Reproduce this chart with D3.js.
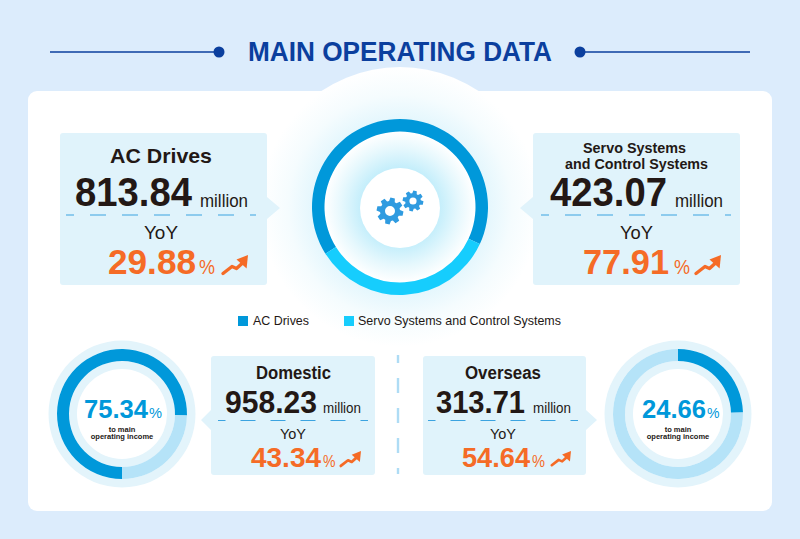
<!DOCTYPE html>
<html>
<head>
<meta charset="utf-8">
<script src="https://cdnjs.cloudflare.com/ajax/libs/d3/7.8.5/d3.min.js"></script>
<style>
  html, body { margin: 0; padding: 0; background: #dcecfc; }
  svg { display: block; font-family: "Liberation Sans", Arial, sans-serif; }
</style>
</head>
<body>
<svg id="chart" width="800" height="539"></svg>
<script>
// ---- data ----
const title = 'MAIN OPERATING DATA';
const categories = ['AC Drives', 'Servo Systems and Control Systems'];
const revenue = [813.84, 423.07];
const revenueYoy = [29.88, 77.91];
const regions = ['Domestic', 'Overseas'];
const regionRevenue = [958.23, 313.71];
const regionYoy = [43.34, 54.64];
const regionShare = [75.34, 24.66];

// ---- colours ----
const C = {
  bg: '#dcecfc', navy: '#0b3f9e', ink: '#231815', panel: '#e0f3fb', dash: '#3ba3e0',
  dark: '#0098da', cyan: '#16cdfd', pale: '#b5e3f8', halo: '#e3f4fb', orange: '#f56b26', gear: '#2f9be0'
};
const rad = deg => deg * Math.PI / 180;

const svg = d3.select('#chart');
const defs = svg.append('defs');

const glow = defs.append('radialGradient').attr('id', 'glow')
  .attr('gradientUnits', 'userSpaceOnUse')
  .attr('cx', 400).attr('cy', 207).attr('r', 140);
[[0.28, '#c4eefb'], [0.42, '#e6f8fd'], [0.54, '#ffffff'], [0.6, '#e2f6fd'], [0.8, '#f5fcfe'], [1, '#ffffff']]
  .forEach(s => glow.append('stop').attr('offset', s[0]).attr('stop-color', s[1]));

// ---- helpers ----
function label(str, x, y, size, opts = {}) {
  const t = svg.append('text')
    .attr('x', x).attr('y', y)
    .attr('font-size', size)
    .attr('font-weight', opts.weight || 'normal')
    .attr('fill', opts.fill || C.ink)
    .text(str);
  if (opts.len) t.attr('textLength', opts.len).attr('lengthAdjust', 'spacingAndGlyphs');
  if (opts.anchor) t.attr('text-anchor', opts.anchor);
  return t;
}

// speech-bubble panel, tip = pointer x, side = which side it sits on
function panel(x0, x1, y0, y1, tipX, tipY, half) {
  const r = 3;
  const p = d3.path();
  p.moveTo(x0 + r, y0);
  p.lineTo(x1 - r, y0);
  p.quadraticCurveTo(x1, y0, x1, y0 + r);
  if (tipX > x1) { p.lineTo(x1, tipY - half); p.lineTo(tipX, tipY); p.lineTo(x1, tipY + half); }
  p.lineTo(x1, y1 - r);
  p.quadraticCurveTo(x1, y1, x1 - r, y1);
  p.lineTo(x0 + r, y1);
  p.quadraticCurveTo(x0, y1, x0, y1 - r);
  if (tipX < x0) { p.lineTo(x0, tipY + half); p.lineTo(tipX, tipY); p.lineTo(x0, tipY - half); }
  p.lineTo(x0, y0 + r);
  p.quadraticCurveTo(x0, y0, x0 + r, y0);
  p.closePath();
  svg.append('path').attr('d', p.toString()).attr('fill', C.panel);
}

function dashLine(x0, x1, y, on) {
  svg.append('line').attr('x1', x0).attr('x2', x1).attr('y1', y).attr('y2', y)
    .attr('stroke', C.dash).attr('stroke-width', 1).attr('stroke-dasharray', `${on} ${on}`)
    .attr('stroke-dashoffset', on / 2);
}

// orange rising arrow, drawn in a 26x20 box
function trendArrow(x, y, w) {
  const s = w / 26;
  const g = svg.append('g').attr('transform', `translate(${x},${y}) scale(${s})`);
  g.append('path')
    .attr('d', 'M1 18.5 L10 11.5 L14.5 13.5 L20 8.5')
    .attr('fill', 'none').attr('stroke', C.orange).attr('stroke-width', 3.4)
    .attr('stroke-linecap', 'round').attr('stroke-linejoin', 'round');
  g.append('path').attr('d', 'M26 0 L24.6 13.5 L14.5 4.5 Z').attr('fill', C.orange);
}

function gear(cx, cy, rOut, rIn, rHole, teeth) {
  const pts = [];
  const step = 2 * Math.PI / teeth;
  for (let i = 0; i < teeth; i++) {
    const a = i * step + 0.2;
    [[-0.30, rIn], [-0.17, rOut], [0.17, rOut], [0.30, rIn]].forEach(d => {
      const an = a + d[0] * step * 1.25;
      pts.push([cx + d[1] * Math.cos(an), cy + d[1] * Math.sin(an)]);
    });
  }
  const p = d3.path();
  p.moveTo(pts[0][0], pts[0][1]);
  pts.slice(1).forEach(q => p.lineTo(q[0], q[1]));
  p.closePath();
  p.moveTo(cx + rHole, cy);
  p.arc(cx, cy, rHole, 0, 2 * Math.PI);
  svg.append('path').attr('d', p.toString()).attr('fill', C.gear).attr('fill-rule', 'evenodd');
}

// ---- page frame ----
svg.append('rect').attr('width', 800).attr('height', 539).attr('fill', C.bg);
svg.append('rect').attr('x', 28).attr('y', 91).attr('width', 744).attr('height', 420).attr('rx', 9).attr('fill', '#fff');

// ---- title ----
[[50, 219], [580, 750]].forEach(d => {
  svg.append('line').attr('x1', d[0]).attr('x2', d[1]).attr('y1', 52).attr('y2', 52)
    .attr('stroke', C.navy).attr('stroke-width', 1.6);
});
[219, 580].forEach(x => svg.append('circle').attr('cx', x).attr('cy', 52).attr('r', 5.5).attr('fill', C.navy));
label(title, 248, 61, 27, { weight: 'bold', fill: C.navy, len: 304 });

// ---- big donut ----
const cx0 = 400, cy0 = 207;
svg.append('circle').attr('cx', cx0).attr('cy', cy0).attr('r', 140).attr('fill', 'url(#glow)');

const bigPie = d3.pie().sort(null).startAngle(rad(-122)).endAngle(rad(238));
const bigArc = d3.arc().innerRadius(75.5).outerRadius(88);
const bigColor = d3.scaleOrdinal().domain(categories).range([C.dark, C.cyan]);
svg.append('g').attr('transform', `translate(${cx0},${cy0})`)
  .selectAll('path').data(bigPie(revenue)).join('path')
  .attr('d', bigArc)
  .attr('fill', (d, i) => bigColor(categories[i]));

svg.append('circle').attr('cx', cx0).attr('cy', cy0 + 1).attr('r', 40).attr('fill', '#fff');
gear(390, 211, 13.5, 10, 5, 8);
gear(413, 201, 10.5, 7.8, 3.6, 8);

// ---- top panels ----
panel(60, 267, 133, 285, 280, 208, 11);
panel(533, 740, 133, 285, 520, 208, 11);
dashLine(66, 256, 215, 16);
dashLine(541, 731, 215, 16);

label(categories[0], 110, 163, 21, { weight: 'bold', len: 102 });
label(revenue[0].toFixed(2), 75, 206, 40, { weight: 'bold', len: 117 });
label('million', 200, 207, 18, { len: 48 });
label('YoY', 144, 239, 19, { len: 34 });
label(revenueYoy[0].toFixed(2), 108, 274, 35, { weight: 'bold', fill: C.orange, len: 88 });
label('%', 199, 274, 20, { fill: C.orange, len: 16 });
trendArrow(222, 255, 26);

label('Servo Systems', 583, 153, 15, { weight: 'bold', len: 103 });
label('and Control Systems', 565, 169, 15, { weight: 'bold', len: 143 });
label(revenue[1].toFixed(2), 550, 206, 40, { weight: 'bold', len: 117 });
label('million', 675, 207, 18, { len: 48 });
label('YoY', 620, 239, 19, { len: 33 });
label(revenueYoy[1].toFixed(2), 583, 274, 35, { weight: 'bold', fill: C.orange, len: 86 });
label('%', 674, 274, 20, { fill: C.orange, len: 16 });
trendArrow(695, 255, 26);

// ---- legend ----
[[238, 253, 56], [344, 358, 203]].forEach((d, i) => {
  svg.append('rect').attr('x', d[0]).attr('y', 316).attr('width', 10).attr('height', 10)
    .attr('fill', bigColor(categories[i]));
  label(categories[i], d[1], 325, 13, { len: d[2] });
});

// ---- bottom panels ----
panel(211, 375, 356, 475, 201, 420, 10);
panel(423, 586, 356, 475, 597, 420, 10);
dashLine(218, 368, 420.5, 15);
dashLine(428, 578, 420.5, 15);

svg.append('line').attr('x1', 398).attr('x2', 398).attr('y1', 355).attr('y2', 474)
  .attr('stroke', '#aedcf5').attr('stroke-width', 2.4)
  .attr('stroke-dasharray', '15 15').attr('stroke-dashoffset', 7);

label(regions[0], 256, 379, 18, { weight: 'bold', len: 75 });
label(regionRevenue[0].toFixed(2), 225, 413, 31, { weight: 'bold', len: 92 });
label('million', 323, 413, 14.5, { len: 38 });
label('YoY', 280, 439, 15, { len: 26 });
label(regionYoy[0].toFixed(2), 251, 467, 28, { weight: 'bold', fill: C.orange, len: 70 });
label('%', 323, 467, 16, { fill: C.orange, len: 12.5 });
trendArrow(340, 451, 21);

label(regions[1], 465, 379, 18, { weight: 'bold', len: 76 });
label(regionRevenue[1].toFixed(2), 436, 413, 31, { weight: 'bold', len: 89 });
label('million', 533, 413, 14.5, { len: 38 });
label('YoY', 490, 439, 15, { len: 26 });
label(regionYoy[1].toFixed(2), 462, 467, 28, { weight: 'bold', fill: C.orange, len: 68 });
label('%', 532, 467, 16, { fill: C.orange, len: 13 });
trendArrow(551, 451, 20);

// ---- small donuts ----
const smallArc = d3.arc().innerRadius(53).outerRadius(65);

function smallDonut(cx, cy, share, startDeg, textX, pctX, pctLen, textLen) {
  const rest = 100 - share;
  const g = svg.append('g').attr('transform', `translate(${cx},${cy})`);
  g.append('circle').attr('r', 73.5).attr('fill', C.halo);
  g.append('circle').attr('r', 65).attr('fill', '#fff');
  g.append('circle').attr('r', 53).attr('fill', C.halo);
  g.append('circle').attr('r', 45).attr('fill', '#fff');

  const pie = d3.pie().sort(null).startAngle(rad(startDeg)).endAngle(rad(startDeg + 360));
  g.selectAll('path').data(pie([share, rest])).join('path')
    .attr('d', smallArc)
    .attr('fill', (d, i) => i === 0 ? C.dark : C.pale);

  label(share.toFixed(2), textX, cy + 4, 25, { weight: 'bold', fill: C.dark, len: textLen });
  label('%', pctX, cy + 4, 15, { fill: C.dark, len: pctLen });
  label('to main', cx, cy + 17.5, 7.5, { weight: 'bold', anchor: 'middle' });
  label('operating income', cx, cy + 24.5, 7.5, { weight: 'bold', anchor: 'middle' });
}

smallDonut(122, 414, regionShare[0], 180, 84, 149, 13, 64);
smallDonut(678, 414, regionShare[1], 0, 642, 707, 12.5, 64);
</script>
</body>
</html>
